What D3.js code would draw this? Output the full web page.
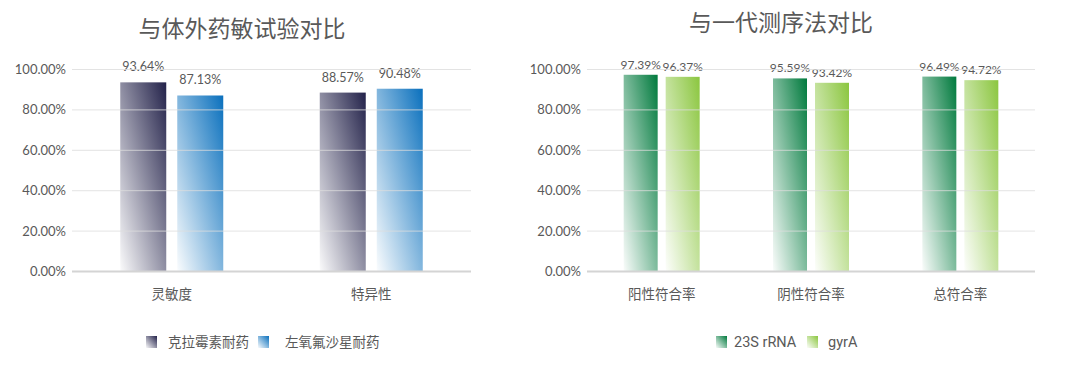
<!DOCTYPE html>
<html>
<head>
<meta charset="utf-8">
<script src="https://cdn.jsdelivr.net/npm/d3@7"></script>
<style>
  body { margin: 0; background: #fff; }
  svg text { font-family: "Lato", "Noto Sans CJK SC", sans-serif; fill: #595959; }
</style>
</head>
<body>
<div id="chart"></div>
<script>
// left chart data
const leftTitle = "与体外药敏试验对比";
const leftCategories = ["灵敏度", "特异性"];
const leftSeries = ["克拉霉素耐药", "左氧氟沙星耐药"];
const leftClarithro = [93.64, 88.57];
const leftLevo = [87.13, 90.48];

// right chart data
const rightTitle = "与一代测序法对比";
const rightCategories = ["阳性符合率", "阴性符合率", "总符合率"];
const rightSeries = ["23S rRNA", "gyrA"];
const right23S = [97.39, 95.59, 96.49];
const rightGyrA = [96.37, 93.42, 94.72];

const yTicks = [0, 20, 40, 60, 80, 100];

const svg = d3.select("#chart").append("svg")
    .attr("width", 1080)
    .attr("height", 365);

const defs = svg.append("defs");

// gradient: dark at top-right, fading to white at bottom-left
function makeGradient(id, color) {
    const g = defs.append("linearGradient")
        .attr("id", id)
        .attr("x1", 1).attr("y1", 0)
        .attr("x2", 0).attr("y2", 1);
    g.append("stop").attr("offset", "0%").attr("stop-color", color).attr("stop-opacity", 1);
    g.append("stop").attr("offset", "100%").attr("stop-color", color).attr("stop-opacity", 0.02);
}

function drawPanel(opts) {
    const cats = opts.categories;
    const rows = cats.map((c, i) => ({cat: c, values: opts.values.map(v => v[i])}));

    const x = d3.scaleBand().domain(cats).range([opts.x0, opts.x1]);
    const y = d3.scaleLinear().domain([0, 100]).range([271.5, 69.5]);

    const g = svg.append("g");

    opts.colors.forEach((c, i) => makeGradient(opts.id + i, c));

    // title
    g.append("text")
        .attr("x", opts.titleX)
        .attr("y", opts.titleY)
        .attr("text-anchor", "middle")
        .style("font-size", "23px")
        .style("font-family", "'Noto Sans CJK SC', sans-serif")
        .style("font-weight", 400)
        .text(opts.title);

    // y tick labels
    g.selectAll(".ytick")
        .data(yTicks)
        .enter()
        .append("text")
        .attr("x", opts.x0 - 6)
        .attr("y", d => y(d))
        .attr("dy", "0.35em")
        .attr("text-anchor", "end")
        .style("font-size", "13px")
        .text(d => d.toFixed(2) + "%");

    // bars
    rows.forEach(r => {
        const groupStart = x(r.cat) + x.bandwidth() / 2 - (opts.barW * 2 + opts.gap) / 2;
        r.values.forEach((v, j) => {
            const bx = groupStart + j * (opts.barW + opts.gap);
            g.append("rect")
                .attr("x", bx)
                .attr("y", y(v))
                .attr("width", opts.barW)
                .attr("height", y(0) - y(v))
                .attr("fill", `url(#${opts.id}${j})`);
            g.append("text")
                .attr("x", bx + opts.barW / 2)
                .attr("y", y(v) - opts.labelOffset)
                .attr("text-anchor", "middle")
                .style("font-size", opts.labelSize)
                .text(v.toFixed(2) + "%");
        });
    });

    // gridlines over the bars
    g.selectAll(".grid")
        .data(yTicks)
        .enter()
        .append("line")
        .attr("x1", opts.x0)
        .attr("x2", opts.x1)
        .attr("y1", d => y(d))
        .attr("y2", d => y(d))
        .attr("stroke", d => d === 0 ? "#d4d4d4" : "#dcdcdc")
        .attr("stroke-opacity", d => d === 0 ? 1 : 0.8)
        .attr("stroke-width", d => d === 0 ? 2 : 1);

    // category labels
    g.selectAll(".cat")
        .data(cats)
        .enter()
        .append("text")
        .attr("x", d => x(d) + x.bandwidth() / 2)
        .attr("y", 294)
        .attr("dy", "0.35em")
        .attr("text-anchor", "middle")
        .style("font-size", "13.5px")
        .style("font-family", "'Noto Sans CJK SC', sans-serif")
        .text(d => d);

    // legend
    opts.series.forEach((s, j) => {
        const lx = opts.legendX[j];
        g.append("rect")
            .attr("x", lx)
            .attr("y", 336)
            .attr("width", 11)
            .attr("height", 12)
            .attr("fill", `url(#${opts.id}${j})`);
        g.append("text")
            .attr("x", lx + opts.legendTextGap[j])
            .attr("y", 342)
            .attr("dy", "0.35em")
            .style("font-size", opts.legendSize)
            .style("font-family", opts.legendFont)
            .text(s);
    });
}

drawPanel({
    id: "gl",
    title: leftTitle,
    titleX: 242, titleY: 37,
    categories: leftCategories,
    series: leftSeries,
    values: [leftClarithro, leftLevo],
    colors: ["#23224a", "#0a70bd"],
    x0: 72, x1: 471,
    barW: 46, gap: 11,
    labelOffset: 11,
    labelSize: "12.5px",
    legendX: [146, 258],
    legendTextGap: [22, 27],
    legendSize: "13.5px",
    legendFont: "'Noto Sans CJK SC', sans-serif"
});

drawPanel({
    id: "gr",
    title: rightTitle,
    titleX: 781, titleY: 31,
    categories: rightCategories,
    series: rightSeries,
    values: [right23S, rightGyrA],
    colors: ["#007a3d", "#8bc63f"],
    x0: 587, x1: 1035,
    barW: 34, gap: 8,
    labelOffset: 6,
    labelSize: "12px",
    legendX: [716, 807],
    legendTextGap: [18, 21],
    legendSize: "14.5px",
    legendFont: "Roboto, sans-serif"
});
</script>
</body>
</html>
